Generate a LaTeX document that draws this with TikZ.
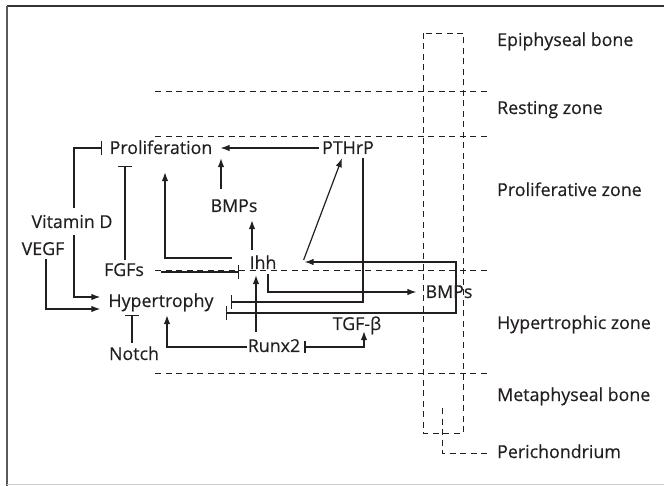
\documentclass[tikz,border=0pt]{standalone}
\usepackage{fontspec}
\setmainfont{Open Sans}[FakeBold=0.35]
\usetikzlibrary{arrows.meta,calc}
\definecolor{ink}{HTML}{231F20}
\begin{document}
\begin{tikzpicture}[x=1pt,y=-1pt,
  lbl/.style={inner sep=0pt,text height=12pt,text depth=0pt,font=\fontsize{17.8}{19}\selectfont,text=ink},
  zone/.style={lbl,anchor=west},
  conn/.style={draw=ink,line width=1.2pt},
  arr/.style={conn,-{Latex[length=9pt,width=6.5pt]}},
  bar/.style={conn,-{Bar[width=14pt,line width=1.2pt]}},
  barr/.style={conn,{Bar[width=12pt,line width=1.2pt]}-{Latex[length=9pt,width=6.5pt]}},
  zdash/.style={draw=ink,line width=0.9pt,dash pattern=on 6pt off 4.5pt}]
\useasboundingbox (0,0) rectangle (664,486);
% frame
\draw[draw=black!80,line width=1.5pt] (7,6) -- (664,6);
\draw[draw=black!65,line width=2pt] (7,6) -- (7,486);
\draw[draw=black!20,line width=1pt] (7,484.5) -- (664,484.5);
% zone boundaries
\foreach \yy in {91,136,270,373} \draw[zdash] (155,\yy) -- (490,\yy);
\draw[zdash] (423,33) rectangle (463,433);
\draw[zdash] (442,408) -- (442,453) -- (490,453);
% zone labels
\node[zone] (epi) at (497,40) {Epiphyseal bone};
\node[zone] (rest) at (497,108) {Resting zone};
\node[zone] (prolz) at (497,190) {Proliferative zone};
\node[zone] (hypz) at (497,323) {Hypertrophic zone};
\node[zone] (meta) at (497,395) {Metaphyseal bone};
\node[zone] (peri) at (497,452) {Perichondrium};
% factors
\node[lbl] (prolif) at (161,148) {Proliferation};
\node[lbl] (pthrp) at (348,148) {PTHrP};
\node[lbl] (bmpsA) at (234,206) {BMPs};
\node[lbl] (ihh) at (263,263) {Ihh};
\node[lbl] (bmpsB) at (449,292) {BMPs};
\node[lbl] (tgfb) at (357,324) {TGF-β};
\node[lbl] (runx2) at (274,346) {Runx2};
\node[lbl] (hyper) at (161,301) {Hypertrophy};
\node[lbl] (notch) at (134,354) {Notch};
\node[lbl] (fgfs) at (124,270) {FGFs};
\node[lbl] (vitd) at (72,222) {Vitamin D};
\node[lbl] (vegf) at (43,249) {VEGF};
% connectors
\draw[arr] ($(pthrp.west)+(-3,0)$) -- ($(prolif.east)+(8,0)$);
\draw[arr] ($(bmpsA.north)+(-13,-11)$) -- ($(prolif.south)+(60,4)$);
\draw[arr] ($(ihh.north)+(-11,-7)$) -- ($(bmpsA.south)+(18,8)$);
\draw[arr] ($(ihh.west)+(-17,-5)$) -| ($(prolif.south)+(4,18)$);
\draw[arr] ($(ihh.east)+(27,-3)$) -- ($(pthrp.south)+(-6,4)$);
\draw[arr] ($(bmpsB.south)+(7,7)$) |- ($(ihh.east)+(28,-1)$);
\draw[bar] ($(bmpsB.south)+(7,7)$) |- ($(hyper.east)+(12,12)$);
\draw[arr] ($(ihh.south)+(5,5)$) |- ($(bmpsB.west)+(-9,0)$);
\draw[bar] ($(pthrp.south)+(15,4)$) |- ($(hyper.east)+(17,1)$);
\draw[bar] ($(fgfs.east)+(17,2)$) -- ($(ihh.west)+(-10,9)$);
\draw[bar] ($(fgfs.north)+(1,-4)$) -- ($(prolif.south)+(-36,12)$);
\draw[bar] ($(vitd.north)+(2,-8)$) |- ($(prolif.west)+(-7,0)$);
\draw[arr] ($(vitd.south)+(2,7)$) |- ($(hyper.west)+(-8,-4)$);
\draw[arr] ($(vegf.south)+(3,4)$) |- ($(hyper.west)+(-8,8)$);
\draw[bar] ($(notch.north)+(-2,-5)$) -- ($(hyper.south)+(-29,8)$);
\draw[arr] ($(runx2.west)+(-1,1)$) -| ($(hyper.south)+(6,8)$);
\draw[arr] ($(runx2.north)+(-18,-8)$) -- ($(ihh.south)+(-7,6)$);
\draw[barr] ($(runx2.east)+(4,1)$) -| ($(tgfb.south)+(7,1)$);
\end{tikzpicture}
\end{document}
